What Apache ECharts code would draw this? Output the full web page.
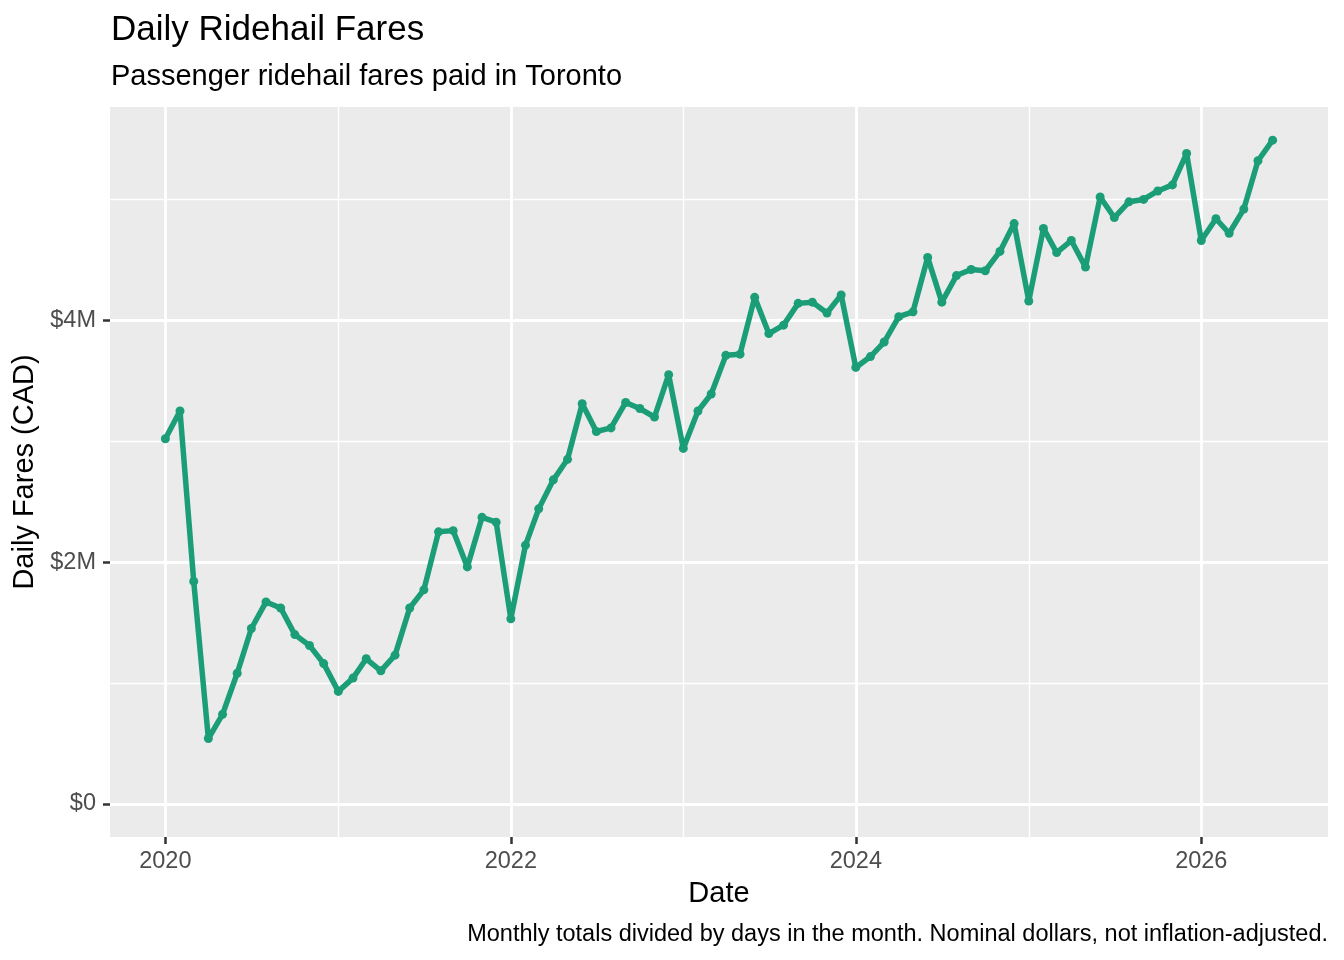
<!DOCTYPE html>
<html>
<head>
<meta charset="utf-8">
<title>Daily Ridehail Fares</title>
<script src="https://cdn.jsdelivr.net/npm/echarts@6/dist/echarts.min.js"></script>
<style>
  html, body { margin: 0; padding: 0; background: #fff; }
  #chart { width: 1344px; height: 960px; }
</style>
</head>
<body>
<div id="chart"></div>
<script>
// first month of the series, then one value per month
var startYear = 2020;
var startMonth = 0; // January

// average daily fares, millions of CAD
var fares2020 = [3.02, 3.25, 1.84, 0.54, 0.74, 1.08, 1.45, 1.67, 1.62, 1.40, 1.31, 1.16];
var fares2021 = [0.93, 1.04, 1.20, 1.10, 1.23, 1.62, 1.77, 2.25, 2.26, 1.96, 2.37, 2.33];
var fares2022 = [1.53, 2.14, 2.44, 2.68, 2.85, 3.31, 3.08, 3.11, 3.32, 3.27, 3.20, 3.55];
var fares2023 = [2.94, 3.25, 3.39, 3.71, 3.72, 4.19, 3.89, 3.96, 4.14, 4.15, 4.06, 4.21];
var fares2024 = [3.61, 3.70, 3.82, 4.03, 4.07, 4.52, 4.15, 4.37, 4.42, 4.41, 4.57, 4.80];
var fares2025 = [4.16, 4.76, 4.56, 4.66, 4.44, 5.02, 4.85, 4.98, 5.00, 5.07, 5.12, 5.38];
var fares2026 = [4.66, 4.84, 4.72, 4.92, 5.32, 5.49];

var xMajorYears = [2020, 2022, 2024, 2026];
var xMinorYears = [2021, 2023, 2025];
var yMajor = [0, 2, 4];
var yMinor = [1, 3, 5];

var fares = [].concat(fares2020, fares2021, fares2022, fares2023, fares2024, fares2025, fares2026);

// x is a timestamp (ms) on a value axis
var points = [];
for (var i = 0; i < fares.length; i++) {
  points.push([new Date(startYear, startMonth + i, 1).getTime(), fares[i]]);
}

function yearStart(y) { return new Date(y, 0, 1).getTime(); }

// ggplot style 5% expansion on both scales (y limits include 0)
var t0 = points[0][0], t1 = points[points.length - 1][0];
var xPad = (t1 - t0) * 0.05;
var yTop = Math.max.apply(null, fares);
var yPad = yTop * 0.05;

var font = 'Liberation Sans, Arial, sans-serif';
var green = '#1B9E77';

var chart = echarts.init(document.getElementById('chart'));

var option = {
  animation: false,
  backgroundColor: '#ffffff',
  title: [
    {
      text: 'Daily Ridehail Fares',
      left: 111, top: 13, padding: 0,
      textStyle: { fontFamily: font, fontSize: 35, fontWeight: 'normal', color: '#000' }
    },
    {
      text: 'Passenger ridehail fares paid in Toronto',
      left: 111, top: 62, padding: 0,
      textStyle: { fontFamily: font, fontSize: 29, fontWeight: 'normal', color: '#000' }
    },
    {
      text: 'Monthly totals divided by days in the month. Nominal dollars, not inflation-adjusted.',
      right: 16, top: 923, padding: 0,
      textStyle: { fontFamily: font, fontSize: 23.5, fontWeight: 'normal', color: '#000' }
    }
  ],
  grid: {
    left: 110, right: 16, top: 107, bottom: 123,
    show: true, backgroundColor: '#EBEBEB', borderWidth: 0,
    containLabel: false
  },
  xAxis: [
    {
      type: 'value',
      min: t0 - xPad, max: t1 + xPad,
      name: 'Date', nameLocation: 'middle', nameGap: 42,
      nameTextStyle: { fontFamily: font, fontSize: 29, color: '#000' },
      axisLine: { show: false, onZero: false },
      axisTick: {
        show: true, length: 7, lineStyle: { color: '#333333', width: 2.5 },
        customValues: xMajorYears.map(yearStart)
      },
      axisLabel: {
        margin: 13, fontFamily: font, fontSize: 23.5, color: '#4D4D4D',
        customValues: xMajorYears.map(yearStart),
        formatter: function (v) { return String(new Date(v).getFullYear()); }
      },
      splitLine: { show: true, lineStyle: { color: '#ffffff', width: 2.8 } }
    },
    {
      type: 'value',
      min: t0 - xPad, max: t1 + xPad,
      axisLine: { show: false, onZero: false },
      axisTick: { show: false, customValues: xMinorYears.map(yearStart) },
      axisLabel: { show: false, customValues: xMinorYears.map(yearStart) },
      splitLine: { show: true, lineStyle: { color: '#ffffff', width: 1.4 } }
    }
  ],
  yAxis: [
    {
      type: 'value',
      min: -yPad, max: yTop + yPad,
      name: 'Daily Fares (CAD)', nameLocation: 'middle', nameGap: 66, nameRotate: 90,
      nameTextStyle: { fontFamily: font, fontSize: 29, color: '#000' },
      axisLine: { show: false, onZero: false },
      axisTick: {
        show: true, length: 7, lineStyle: { color: '#333333', width: 2.5 },
        customValues: yMajor
      },
      axisLabel: {
        margin: 14, fontFamily: font, fontSize: 23.5, color: '#4D4D4D',
        customValues: yMajor,
        formatter: function (v) { return v === 0 ? '$0' : '$' + v + 'M'; }
      },
      splitLine: { show: true, lineStyle: { color: '#ffffff', width: 2.8 } }
    },
    {
      type: 'value',
      min: -yPad, max: yTop + yPad,
      axisLine: { show: false, onZero: false },
      axisTick: { show: false, customValues: yMinor },
      axisLabel: { show: false, customValues: yMinor },
      splitLine: { show: true, lineStyle: { color: '#ffffff', width: 1.4 } }
    }
  ],
  series: [
    {
      name: 'Daily fares',
      type: 'line',
      xAxisIndex: 0,
      yAxisIndex: 0,
      data: points,
      symbol: 'circle',
      symbolSize: 9,
      showSymbol: true,
      showAllSymbol: true,
      lineStyle: { color: green, width: 5.5 },
      itemStyle: { color: green },
      emphasis: { disabled: true },
      z: 3
    }
  ]
};

chart.setOption(option);
</script>
</body>
</html>
